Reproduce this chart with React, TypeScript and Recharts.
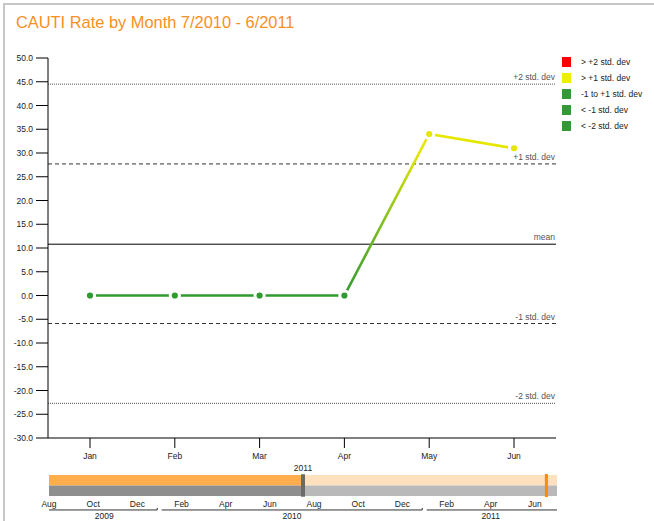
import React from 'react';
import {
  LineChart, Line, XAxis, YAxis, ReferenceLine, ComposedChart, ReferenceArea,
} from 'recharts';

const months = ['Jan', 'Feb', 'Mar', 'Apr', 'May', 'Jun'];
const rates = [0, 0, 0, 0, 34.0, 31.0];
const refLevels = [44.5, 27.7, 10.8, -5.9, -22.7];
const refLabels = ['+2 std. dev', '+1 std. dev', 'mean', '-1 std. dev', '-2 std. dev'];
const refDash = ['1 1', '4 3', '', '4 3', '1 1'];
const refStroke = ['#555', '#333', '#000', '#333', '#555'];
const yTicks = [50, 45, 40, 35, 30, 25, 20, 15, 10, 5, 0, -5, -10, -15, -20, -25, -30];

const legendLabels = ['> +2 std. dev', '> +1 std. dev', '-1 to +1 std. dev', '< -1 std. dev', '< -2 std. dev'];
const legendColors = ['#ff0000', '#eeee00', '#339933', '#339933', '#339933'];

// navigator: month index 0 = Aug 2009 ... 23 = Jul 2011
const navMonthTicks = [0, 2, 4, 6, 8, 10, 12, 14, 16, 18, 20, 22];
const navMonthLabels = ['Aug', 'Oct', 'Dec', 'Feb', 'Apr', 'Jun', 'Aug', 'Oct', 'Dec', 'Feb', 'Apr', 'Jun'];
const navYearCenters = [2.5, 11, 20];
const navYearLabels = ['2009', '2010', '2011'];
const navYearStarts = [0, 5, 17];
const navYearEnds = [5, 17, 23];
const navSplit = 11.5;
const navEndHandle = 22.52;
const navData = Array.from({ length: 24 }, (_, i) => ({ m: i }));

const data = months.map((m, i) => ({ month: m, rate: rates[i] }));

const GREEN = '#2f9a2f';
const YELLOW = '#e6e600';
const FONT = '"Liberation Sans", Arial, sans-serif';
const YEAR_LINE_Y = -1.33;

const RefLabel = (props: any) => {
  const vb = props.viewBox || {};
  const right = (vb.x || 0) + (vb.width || 0);
  return (
    <text x={right - 1} y={(vb.y || 0) - 4} textAnchor="end" fontSize={8.5} fill="#555">
      {props.text}
    </text>
  );
};

const Dot = (props: any) => {
  const { cx, cy, payload, index } = props;
  if (cx == null || cy == null) return null;
  const color = payload.rate > refLevels[1] ? YELLOW : GREEN;
  return <circle key={`d${index}`} cx={cx} cy={cy} r={4.6} fill={color} stroke="#fff" strokeWidth={3} />;
};

export default function App() {
  return (
    <div style={{ position: 'absolute', left: 0, top: 0, width: 654, height: 521, background: '#fff', fontFamily: FONT, overflow: 'hidden' }}>
      <div style={{ position: 'absolute', left: 3, top: 3, width: 660, height: 530, borderTop: '2px solid #c6c6c6', borderLeft: '2px solid #c6c6c6' }} />
      <div style={{ position: 'absolute', left: 16, top: 13, fontSize: 16.4, lineHeight: '18px', color: '#f7901e', whiteSpace: 'nowrap' }}>
        CAUTI Rate by Month 7/2010 - 6/2011
      </div>

      <div style={{ position: 'absolute', left: 0, top: 0 }}>
        <LineChart width={654} height={470} data={data} margin={{ top: 58, right: 98, bottom: 2, left: 8 }}>
          <defs>
            <linearGradient id="lineGrad" x1="0" y1="0" x2="0" y2="1">
              <stop offset="0" stopColor="#e8e800" />
              <stop offset="0.12" stopColor="#e2e500" />
              <stop offset="0.55" stopColor="#80bf22" />
              <stop offset="1" stopColor={GREEN} />
            </linearGradient>
          </defs>
          <XAxis
            dataKey="month"
            padding={{ left: 42, right: 42 }}
            height={30}
            interval={0}
            tickSize={10}
            tickMargin={5}
            axisLine={{ stroke: '#000' }}
            tickLine={{ stroke: '#000' }}
            tick={{ fontSize: 8.5, fill: '#222' }}
          />
          <YAxis
            type="number"
            domain={[-30, 50]}
            ticks={yTicks}
            interval={0}
            width={40}
            tickSize={12}
            tickMargin={3}
            axisLine={{ stroke: '#000' }}
            tickLine={{ stroke: '#000' }}
            tick={{ fontSize: 8.5, fill: '#222' }}
            tickFormatter={(v: number) => v.toFixed(1)}
          />
          {refLevels.map((lv, i) => (
            <ReferenceLine
              key={refLabels[i]}
              y={lv}
              stroke={refStroke[i]}
              strokeWidth={1}
              strokeDasharray={refDash[i] || undefined}
              label={(p: any) => <RefLabel {...p} text={refLabels[i]} />}
            />
          ))}
          <Line
            type="linear"
            dataKey="rate"
            stroke="url(#lineGrad)"
            strokeWidth={2.6}
            dot={Dot}
            activeDot={false}
            isAnimationActive={false}
          />
        </LineChart>
      </div>

      {legendLabels.map((lab, i) => (
        <div key={lab} style={{ position: 'absolute', left: 562, top: 57 + 16 * i, height: 10, whiteSpace: 'nowrap' }}>
          <div style={{ position: 'absolute', left: 0, top: 0, width: 9, height: 10, background: legendColors[i] }} />
          <div style={{ position: 'absolute', left: 19, top: 0, fontSize: 8.5, lineHeight: '10px', color: '#222' }}>{lab}</div>
        </div>
      ))}

      <div style={{ position: 'absolute', left: 0, top: 440 }}>
        <ComposedChart width={654} height={81} data={navData} margin={{ top: 35, right: 97, bottom: 0, left: 49 }}>
          <XAxis
            dataKey="m"
            type="number"
            domain={[0, 23]}
            allowDataOverflow
            ticks={navMonthTicks}
            interval={0}
            height={14}
            tickSize={0}
            tickMargin={5}
            axisLine={false}
            tickLine={false}
            tick={{ fontSize: 8.5, fill: '#222' }}
            tickFormatter={(v: number) => navMonthLabels[navMonthTicks.indexOf(v)]}
          />
          <XAxis
            xAxisId="yr"
            dataKey="m"
            type="number"
            domain={[0, 23]}
            allowDataOverflow
            ticks={navYearCenters}
            interval={0}
            height={11}
            tickSize={0}
            tickMargin={3}
            axisLine={false}
            tickLine={false}
            tick={{ fontSize: 8.5, fill: '#222' }}
            tickFormatter={(v: number) => navYearLabels[navYearCenters.indexOf(v)]}
          />
          <YAxis hide type="number" domain={[0, 2]} allowDataOverflow />
          <ReferenceArea x1={0} x2={navSplit} y1={1} y2={2} fill="#ffad4d" fillOpacity={1} stroke="none" ifOverflow="visible" />
          <ReferenceArea x1={0} x2={navSplit} y1={0} y2={1} fill="#8e8e8e" fillOpacity={1} stroke="none" ifOverflow="visible" />
          <ReferenceArea x1={navSplit} x2={23} y1={1} y2={2} fill="#fde1bf" fillOpacity={1} stroke="none" ifOverflow="visible" />
          <ReferenceArea x1={navSplit} x2={23} y1={0} y2={1} fill="#b9b9b9" fillOpacity={1} stroke="none" ifOverflow="visible" />
          <ReferenceArea
            x1={navSplit - 0.09}
            x2={navSplit + 0.09}
            y1={-0.07}
            y2={2.07}
            fill="#6a6a6a"
            fillOpacity={1}
            stroke="none"
            ifOverflow="visible"
            label={{ value: '2011', position: 'top', fontSize: 8.5, fill: '#222', offset: 3 }}
          />
          <ReferenceArea
            x1={navEndHandle - 0.07}
            x2={navEndHandle + 0.07}
            y1={-0.1}
            y2={2.1}
            fill="#ff8c00"
            fillOpacity={1}
            stroke="none"
            ifOverflow="visible"
          />
          {navYearStarts.map((s, i) => (
            <ReferenceLine
              key={`yl${i}`}
              segment={[
                { x: s + (i === 0 ? 0 : 0.1), y: YEAR_LINE_Y },
                { x: navYearEnds[i] - (i === 2 ? 0 : 0.1), y: YEAR_LINE_Y },
              ]}
              stroke="#333"
              strokeWidth={1}
              ifOverflow="visible"
            />
          ))}
          {navYearEnds.slice(0, 2).map((e, i) => (
            <ReferenceLine
              key={`yt${i}`}
              segment={[
                { x: e - 0.1, y: YEAR_LINE_Y },
                { x: e - 0.1, y: YEAR_LINE_Y + 0.2 },
              ]}
              stroke="#333"
              strokeWidth={1}
              ifOverflow="visible"
            />
          ))}
        </ComposedChart>
      </div>
    </div>
  );
}
